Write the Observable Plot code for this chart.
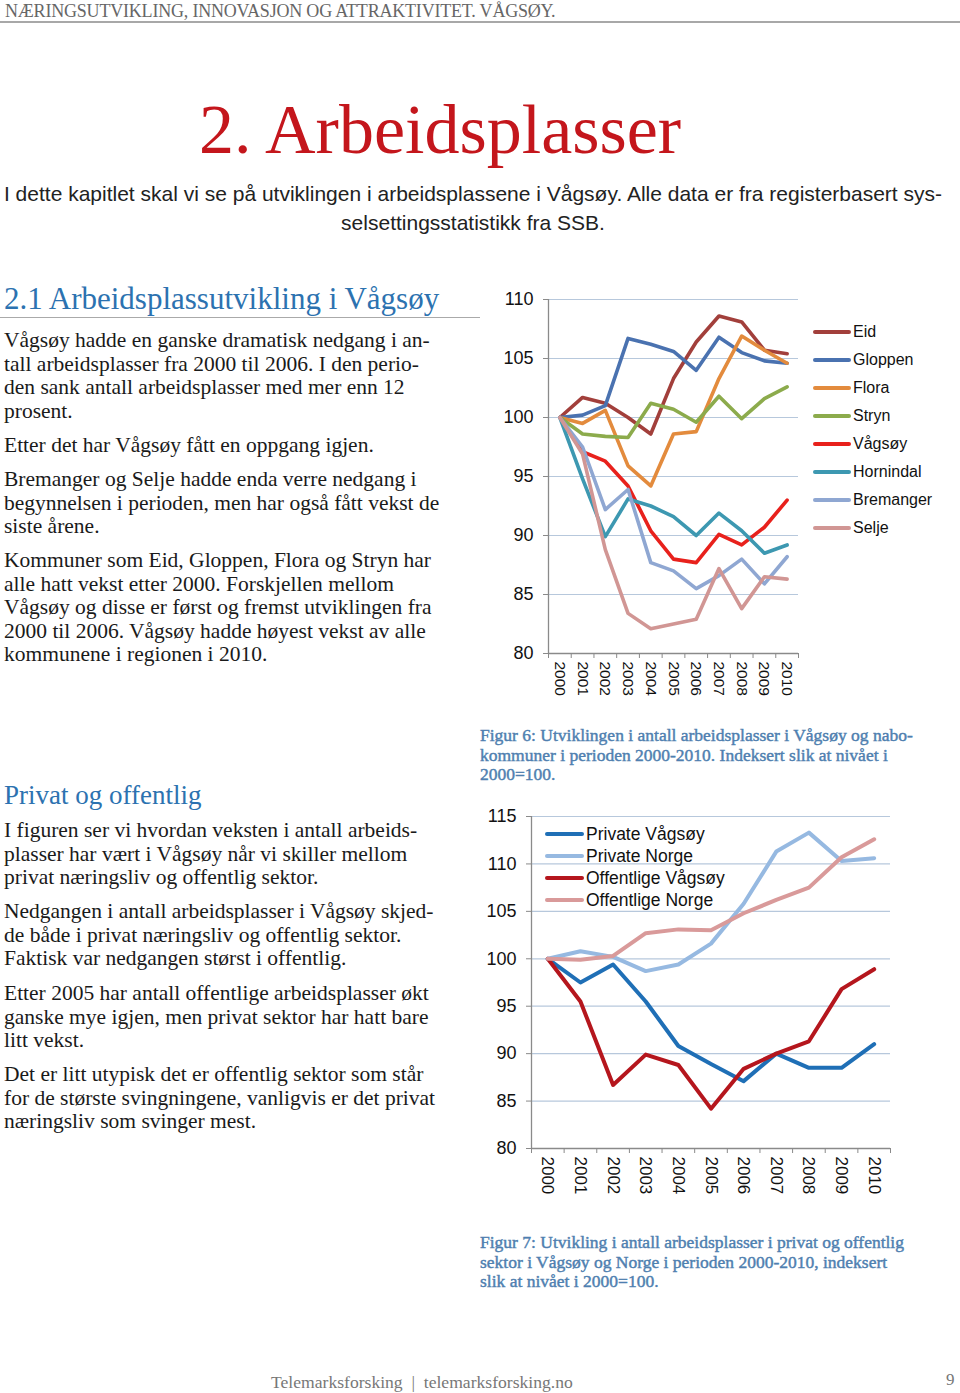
<!DOCTYPE html>
<html>
<head>
<meta charset="utf-8">
<script src="https://cdn.jsdelivr.net/npm/d3@7"></script>
<script src="https://cdn.jsdelivr.net/npm/@observablehq/plot@0.6"></script>
<style>
  html, body { margin: 0; padding: 0; background: #fff; }
  body { width: 960px; height: 1393px; position: relative; overflow: hidden; }
  .abs { position: absolute; white-space: nowrap; }
  .serif { font-family: "Liberation Serif", "Times New Roman", serif; }
  .body { font-family: "Liberation Serif", serif; font-size: 21.5px; line-height: 23.5px; color: #1a1a1a; left: 4px; }
  .cap { font-family: "Liberation Serif", serif; font-size: 17.5px; line-height: 19.5px; color: #4f7fb0; font-weight: normal; -webkit-text-stroke: 0.45px #4f7fb0; left: 480px; }
  .legend { font-family: "Liberation Sans", Arial, sans-serif; color: #111; }
  .legend .item { display: flex; align-items: center; }
  .legend .sw { display: inline-block; margin-right: 2px; }
</style>
</head>
<body>
<div class="abs serif" style="left:5px; top:1px; font-size:18px; color:#666; letter-spacing:-0.2px;">NÆRINGSUTVIKLING, INNOVASJON OG ATTRAKTIVITET. VÅGSØY.</div>
<div class="abs" style="left:0; top:21px; width:960px; height:2px; background:#a8a8a8;"></div>

<div class="abs serif" style="left:0; width:880px; text-align:center; top:90px; font-size:70px; line-height:80px; color:#c4161c;">2. Arbeidsplasser</div>
<div class="abs" style="left:0; width:946px; text-align:center; top:180px; font-family:'Liberation Sans Narrow','Liberation Sans',sans-serif; font-size:21px; line-height:28.5px; color:#222;">I dette kapitlet skal vi se på utviklingen i arbeidsplassene i Vågsøy. Alle data er fra registerbasert sys-<br>selsettingsstatistikk fra SSB.</div>

<div class="abs serif" style="left:4px; top:280px; font-size:31px; line-height:38px; color:#2c72b0;">2.1 Arbeidsplassutvikling i Vågsøy</div>
<div class="abs" style="left:0; top:317px; width:480px; height:1px; background:#aaa;"></div>

<div class="abs body" style="top:329px;">Vågsøy hadde en ganske dramatisk nedgang i an-<br>tall arbeidsplasser fra 2000 til 2006. I den perio-<br>den sank antall arbeidsplasser med mer enn 12<br>prosent.</div>
<div class="abs body" style="top:434px;">Etter det har Vågsøy fått en oppgang igjen.</div>
<div class="abs body" style="top:468px;">Bremanger og Selje hadde enda verre nedgang i<br>begynnelsen i perioden, men har også fått vekst de<br>siste årene.</div>
<div class="abs body" style="top:549px;">Kommuner som Eid, Gloppen, Flora og Stryn har<br>alle hatt vekst etter 2000. Forskjellen mellom<br>Vågsøy og disse er først og fremst utviklingen fra<br>2000 til 2006. Vågsøy hadde høyest vekst av alle<br>kommunene i regionen i 2010.</div>

<div class="abs cap" style="top:726px;">Figur 6: Utviklingen i antall arbeidsplasser i Vågsøy og nabo-<br>kommuner i perioden 2000-2010. Indeksert slik at nivået i<br>2000=100.</div>

<div class="abs serif" style="left:4px; top:779px; font-size:27px; line-height:32px; color:#2c72b0;">Privat og offentlig</div>
<div class="abs body" style="top:819px;">I figuren ser vi hvordan veksten i antall arbeids-<br>plasser har vært i Vågsøy når vi skiller mellom<br>privat næringsliv og offentlig sektor.</div>
<div class="abs body" style="top:900px;">Nedgangen i antall arbeidsplasser i Vågsøy skjed-<br>de både i privat næringsliv og offentlig sektor.<br>Faktisk var nedgangen størst i offentlig.</div>
<div class="abs body" style="top:982px;">Etter 2005 har antall offentlige arbeidsplasser økt<br>ganske mye igjen, men privat sektor har hatt bare<br>litt vekst.</div>
<div class="abs body" style="top:1063px;">Det er litt utypisk det er offentlig sektor som står<br>for de største svingningene, vanligvis er det privat<br>næringsliv som svinger mest.</div>

<div class="abs cap" style="top:1233px;">Figur 7: Utvikling i antall arbeidsplasser i privat og offentlig<br>sektor i Vågsøy og Norge i perioden 2000-2010, indeksert<br>slik at nivået i 2000=100.</div>

<div class="abs serif" style="left:271px; top:1372px; font-size:17.6px; color:#777;">Telemarksforsking &nbsp;|&nbsp; telemarksforsking.no</div>
<div class="abs serif" style="left:946px; top:1370px; font-size:17px; color:#777;">9</div>

<div id="chart1" class="abs" style="left:490px; top:285px;"></div>
<div id="legend1" class="abs legend" style="left:813px; top:318px; font-size:16px;"></div>
<div id="chart2" class="abs" style="left:470px; top:800px;"></div>
<div id="legend2" class="abs legend" style="left:545px; top:823px; font-size:17.5px;"></div>

<script>
// ---------- Data: Figur 6 ----------
const years = [2000, 2001, 2002, 2003, 2004, 2005, 2006, 2007, 2008, 2009, 2010];
const municipalities = ["Eid", "Gloppen", "Flora", "Stryn", "Vågsøy", "Hornindal", "Bremanger", "Selje"];
const eid       = [100, 101.7, 101.2, 100.0, 98.6, 103.3, 106.4, 108.6, 108.1, 105.7, 105.4];
const gloppen   = [100, 100.2, 101.0, 106.7, 106.2, 105.6, 104.0, 106.8, 105.5, 104.8, 104.6];
const flora     = [100, 99.5, 100.6, 95.9, 94.2, 98.6, 98.8, 103.3, 106.9, 105.7, 104.6];
const stryn     = [100, 98.6, 98.4, 98.3, 101.2, 100.7, 99.6, 101.8, 99.9, 101.6, 102.6];
const vagsoy    = [100, 97.1, 96.3, 94.2, 90.4, 88.0, 87.7, 90.1, 89.2, 90.7, 93.0];
const hornindal = [100, 94.8, 89.9, 93.1, 92.5, 91.6, 90.0, 91.9, 90.4, 88.5, 89.2];
const bremanger = [100, 97.5, 92.2, 93.9, 87.7, 87.0, 85.5, 86.6, 88.0, 85.9, 88.2];
const selje     = [100, 96.9, 88.8, 83.4, 82.1, 82.5, 82.9, 87.2, 83.8, 86.5, 86.3];
const colors1 = ["#a23f3b", "#4a72b0", "#e38b3d", "#8cab4c", "#e8211c", "#3d98b1", "#8fa7d2", "#d19694"];
const yTicks1 = [80, 85, 90, 95, 100, 105, 110];

// ---------- Data: Figur 7 ----------
const sectors = ["Private Vågsøy", "Private Norge", "Offentlige Vågsøy", "Offentlige Norge"];
const privVagsoy = [100, 97.5, 99.4, 95.5, 90.8, 88.9, 87.1, 90.0, 88.5, 88.5, 91.0];
const privNorge  = [100, 100.8, 100.2, 98.7, 99.4, 101.6, 105.8, 111.3, 113.3, 110.3, 110.6];
const offVagsoy  = [100, 95.5, 86.7, 89.9, 88.8, 84.2, 88.4, 90.0, 91.3, 96.8, 98.9];
const offNorge   = [100, 99.9, 100.3, 102.7, 103.1, 103.0, 104.8, 106.2, 107.5, 110.7, 112.6];
const colors2 = ["#1f6fb6", "#96b9e1", "#b5161d", "#d99a9a"];
const yTicks2 = [80, 85, 90, 95, 100, 105, 110, 115];

function toLong(names, series) {
  const out = [];
  names.forEach((n, i) => series[i].forEach((v, j) => out.push({name: n, year: years[j], value: v})));
  return out;
}
const data1 = toLong(municipalities, [eid, gloppen, flora, stryn, vagsoy, hornindal, bremanger, selje]);
const data2 = toLong(sectors, [privVagsoy, privNorge, offVagsoy, offNorge]);
const bounds = [...years.map(y => y - 0.5), years[years.length - 1] + 0.5];

function chart({data, names, colors, yTicks, width, height, mL, mT, mB, mR, yFont, xFont, sw}) {
  const yMin = yTicks[0], yMax = yTicks[yTicks.length - 1];
  return Plot.plot({
    width, height, marginLeft: mL, marginTop: mT, marginBottom: mB, marginRight: mR,
    style: {fontFamily: "'Liberation Sans', Arial, sans-serif", color: "#111", background: "transparent"},
    x: {domain: [bounds[0], bounds[bounds.length - 1]], axis: null, label: null},
    y: {domain: [yMin, yMax], axis: null, label: null},
    color: {domain: names, range: colors},
    marks: [
      Plot.gridY(yTicks.filter(t => t !== yMin), {stroke: "#b7c8dc", strokeOpacity: 1, strokeWidth: 1.2}),
      Plot.ruleY([yMin], {stroke: "#8a8a8a", strokeWidth: 1.3}),
      Plot.ruleX([bounds[0]], {y1: yMin, y2: yMax, stroke: "#8a8a8a", strokeWidth: 1.3}),
      Plot.axisY(yTicks, {tickSize: 5, tickPadding: 10, stroke: "#8a8a8a", fontSize: yFont, label: null, tickFormat: d => String(d)}),
      Plot.axisX(bounds, {tickSize: 5, stroke: "#8a8a8a", label: null, tickFormat: () => ""}),
      Plot.axisX(years, {tickSize: 0, tickPadding: 8, tickRotate: 90, fontSize: xFont, label: null, tickFormat: d => String(d)}),
      Plot.line(data, {x: "year", y: "value", z: "name", stroke: "name", strokeWidth: sw, strokeLinejoin: "round", strokeLinecap: "round"})
    ]
  });
}

document.getElementById("chart1").append(chart({
  data: data1, names: municipalities, colors: colors1, yTicks: yTicks1,
  width: 320, height: 420, mL: 58, mT: 14, mB: 52, mR: 12, yFont: 18, xFont: 15.5, sw: 3.6
}));
document.getElementById("chart2").append(chart({
  data: data2, names: sectors, colors: colors2, yTicks: yTicks2,
  width: 430, height: 400, mL: 61, mT: 16, mB: 52, mR: 10, yFont: 18, xFont: 17, sw: 4
}));

function legend(el, names, colors, swW, swH, gap) {
  const root = document.getElementById(el);
  names.forEach((n, i) => {
    const row = document.createElement("div");
    row.className = "item";
    row.style.height = gap + "px";
    const s = document.createElement("span");
    s.className = "sw";
    s.style.width = swW + "px"; s.style.height = swH + "px"; s.style.background = colors[i];
    s.style.borderRadius = "2px";
    const t = document.createElement("span");
    t.textContent = n;
    row.append(s, t);
    root.append(row);
  });
}
legend("legend1", municipalities, colors1, 38, 4, 28);
legend("legend2", sectors, colors2, 39, 4, 22);
</script>
</body>
</html>
